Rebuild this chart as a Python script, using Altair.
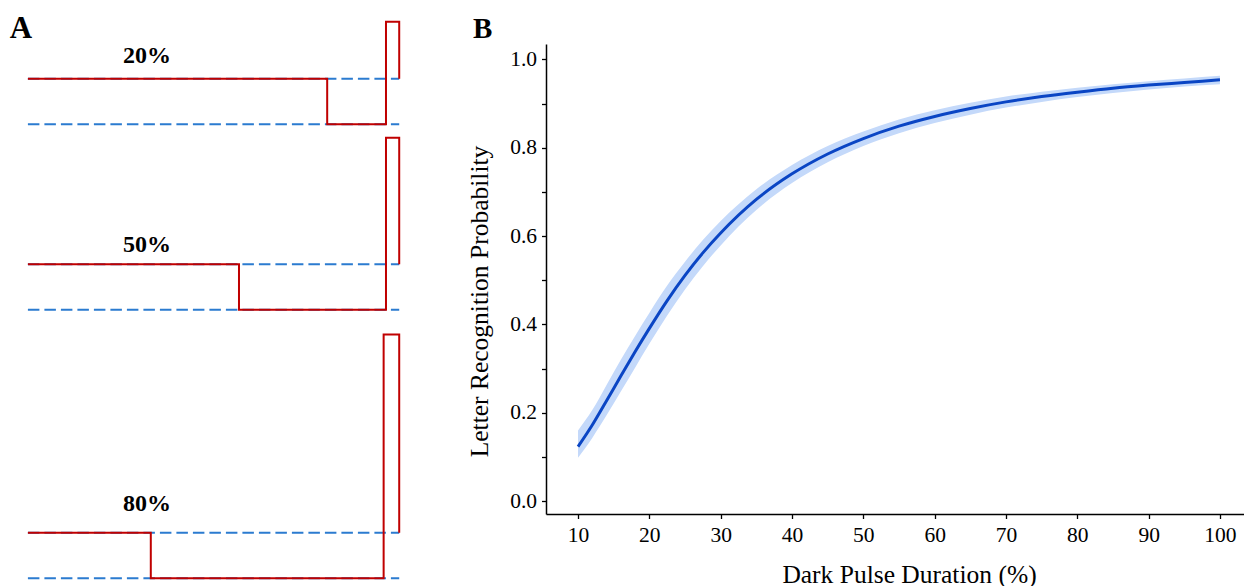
import altair as alt
import pandas as pd

FONT = "Liberation Serif"
RED = "#c00000"
BLUE = "#2b7bd0"
BAND = "#c4d9fa"
LINE = "#0a45c4"

# ---------------- Panel A: stimulus waveforms ----------------
wave_labels = ["20%", "50%", "80%"]
dark_start = [80, 50, 20]          # time (period = 100) where the dark pulse begins
base_level = [9.98, 5.90, 0.0]     # vertical offset of each trace (low level)
flash_height = [2.25, 3.78, 5.36]  # flash peak above the low level
flash_start = [100, 100, 99.2]
flash_end = 104.5
trace_start = -21.8
label_t = 18.7
label_level = [11.33, 7.18, 1.48]

wave_rows, ref_rows, lab_rows = [], [], []
for i, lab in enumerate(wave_labels):
    lo = base_level[i]
    hi = lo + 1.0
    pk = lo + flash_height[i]
    pts = [(trace_start, hi), (dark_start[i], hi), (dark_start[i], lo),
           (flash_start[i], lo), (flash_start[i], pk), (flash_end, pk), (flash_end, hi)]
    for k, (t, v) in enumerate(pts):
        wave_rows.append({"wave": lab, "k": k, "t": t, "v": v})
    for name, lvl in (("high", hi), ("low", lo)):
        for k, t in enumerate((trace_start, flash_end)):
            ref_rows.append({"ref": f"{lab}-{name}", "k": k, "t": t, "v": lvl})
    lab_rows.append({"t": label_t, "v": label_level[i], "label": lab})

wave_df = pd.DataFrame(wave_rows)
ref_df = pd.DataFrame(ref_rows)
lab_df = pd.DataFrame(lab_rows)
letterA_df = pd.DataFrame({"t": [-28.0], "v": [11.88], "s": ["A"]})

xA = alt.X("t:Q", scale=alt.Scale(domain=[-28.57, 114.29], nice=False, zero=False), axis=None)
yA = alt.Y("v:Q", scale=alt.Scale(domain=[-0.059, 11.743], nice=False, zero=False), axis=None)

refA = alt.Chart(ref_df).mark_line(color=BLUE, strokeWidth=2, strokeDash=[11.5, 5]).encode(
    x=xA, y=yA, detail="ref:N", order="k:Q")
waveA = alt.Chart(wave_df).mark_line(color=RED, strokeWidth=2, strokeJoin="miter").encode(
    x=xA, y=yA, detail="wave:N", order="k:Q")
labA = alt.Chart(lab_df).mark_text(font=FONT, fontSize=24, fontWeight="bold", align="center",
                                   baseline="alphabetic", color="black").encode(
    x=xA, y=yA, text="label:N")
letA = alt.Chart(letterA_df).mark_text(font=FONT, fontSize=31, fontWeight="bold", align="left",
                                       baseline="alphabetic", color="black").encode(
    x=xA, y=yA, text="s:N")

panelA = alt.layer(refA, waveA, labA, letA).properties(width=420, height=537)

# ---------------- Panel B: recognition curve ----------------
duration = [10, 12, 14, 16, 18, 20, 22.5, 25, 27.5, 30, 35, 40, 45, 50, 55, 60, 65, 70, 75, 80, 85, 90, 95, 100]
prob = [0.123, 0.172, 0.227, 0.283, 0.338, 0.391, 0.454, 0.511, 0.562, 0.607, 0.683, 0.741,
        0.786, 0.821, 0.849, 0.871, 0.889, 0.904, 0.916, 0.926, 0.935, 0.942, 0.948, 0.954]
ci_low = [0.098, 0.143, 0.194, 0.248, 0.302, 0.356, 0.420, 0.479, 0.532, 0.579, 0.659, 0.720,
          0.767, 0.804, 0.833, 0.856, 0.875, 0.891, 0.904, 0.915, 0.924, 0.932, 0.939, 0.944]
ci_high = [0.160, 0.206, 0.263, 0.320, 0.374, 0.426, 0.488, 0.542, 0.591, 0.634, 0.706, 0.761,
           0.804, 0.837, 0.864, 0.885, 0.902, 0.916, 0.927, 0.936, 0.944, 0.951, 0.957, 0.963]
x_ticks = [10, 20, 30, 40, 50, 60, 70, 80, 90, 100]
y_ticks = [round(i * 0.1, 1) for i in range(11)]

curve_df = pd.DataFrame({"d": duration, "p": prob, "lo": ci_low, "hi": ci_high})
letterB_df = pd.DataFrame({"s": ["B"]})

xB = alt.X("d:Q", scale=alt.Scale(domain=[5.51, 103.37], nice=False, zero=False),
           axis=alt.Axis(values=x_ticks, title="Dark Pulse Duration (%)", grid=False,
                         labelFont=FONT, labelFontSize=21.5, labelColor="black",
                         titleFont=FONT, titleFontSize=25.5, titleFontWeight="normal", titleColor="black",
                         tickSize=4.5, tickWidth=1.3, tickColor="black",
                         domainColor="black", domainWidth=1.5, labelPadding=5.5,
                         titleX=363, titleY=68, titleAlign="center", titleBaseline="alphabetic",
                         labelFlush=False))
yB = alt.Y("lo:Q", scale=alt.Scale(domain=[-0.0294, 1.0351], nice=False, zero=False),
           axis=alt.Axis(values=y_ticks, title="Letter Recognition Probability", grid=False,
                         labelExpr="round(datum.value*10) % 2 == 0 ? format(datum.value, '.1f') : ''",
                         labelFont=FONT, labelFontSize=21.5, labelColor="black",
                         titleFont=FONT, titleFontSize=25.5, titleFontWeight="normal", titleColor="black",
                         tickSize=4.5, tickWidth=1.3, tickColor="black",
                         domainColor="black", domainWidth=1.5, labelPadding=5,
                         titleX=-59, titleY=257, titleAngle=270, titleAlign="center",
                         titleBaseline="alphabetic", labelFlush=False))

bandB = alt.Chart(curve_df).mark_area(color=BAND, opacity=1, interpolate="monotone").encode(
    x=xB, y=yB, y2="hi:Q")
lineB = alt.Chart(curve_df).mark_line(color=LINE, strokeWidth=3, interpolate="monotone").encode(
    x="d:Q", y="p:Q")
letB = alt.Chart(letterB_df).mark_text(font=FONT, fontSize=29, fontWeight="bold", align="left",
                                       baseline="alphabetic", color="black").encode(
    x=alt.value(-73), y=alt.value(-6.3), text="s:N")

panelB = alt.layer(bandB, lineB, letB).properties(width=698, height=470)

chart = alt.hconcat(panelA, panelB, spacing=118, bounds="flush").properties(
    padding={"left": 0, "top": 4, "right": 0, "bottom": 0}
).configure(font=FONT).configure_view(stroke=None, strokeWidth=0)

chart.save("out.html", embed_options={"renderer": "svg", "actions": False})
